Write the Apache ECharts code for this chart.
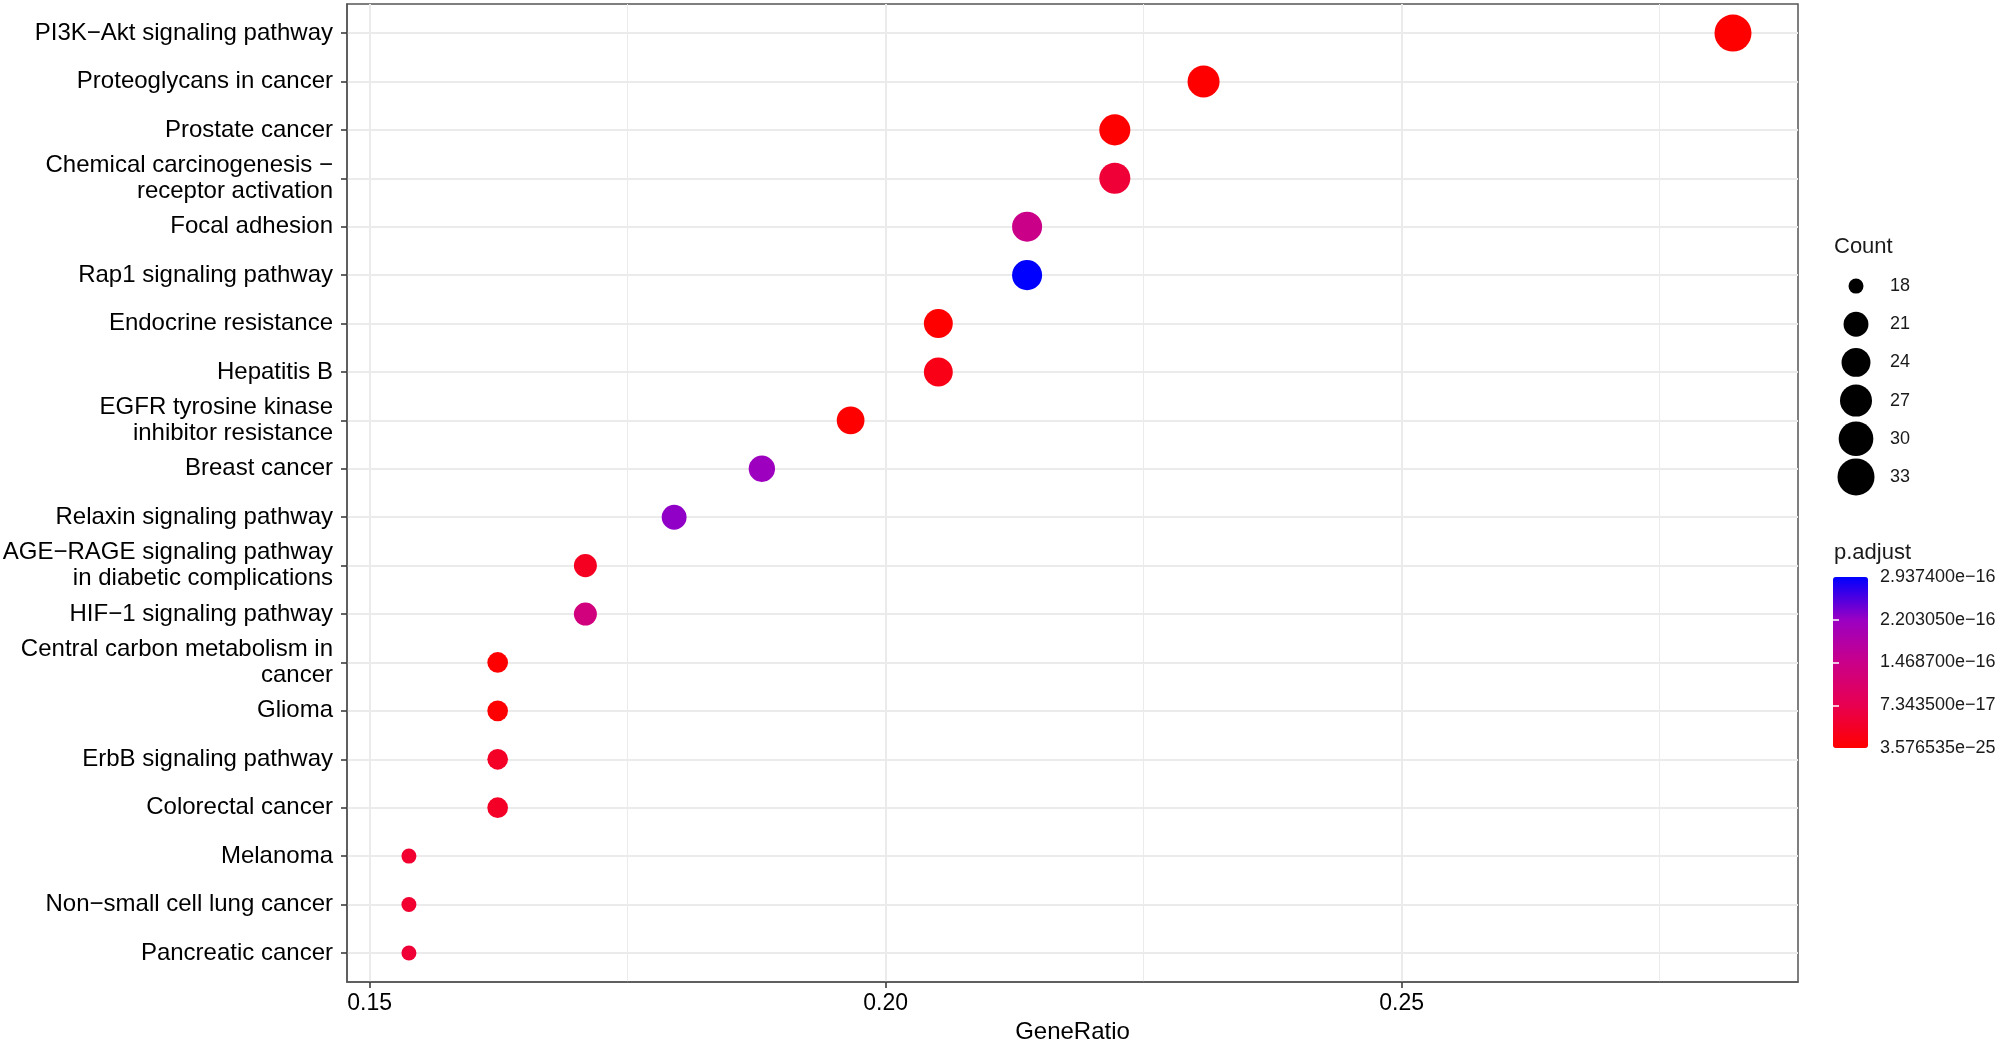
<!DOCTYPE html>
<html>
<head>
<meta charset="utf-8">
<script src="https://cdn.jsdelivr.net/npm/echarts@6/dist/echarts.min.js"></script>
<style>
  html, body { margin: 0; padding: 0; background: #fff; }
  #chart { width: 2000px; height: 1042px; }
</style>
</head>
<body>
<div id="chart"></div>
<script>
// KEGG enrichment dot plot
const terms = [
  'PI3K\u2212Akt signaling pathway',
  'Proteoglycans in cancer',
  'Prostate cancer',
  'Chemical carcinogenesis \u2212\nreceptor activation',
  'Focal adhesion',
  'Rap1 signaling pathway',
  'Endocrine resistance',
  'Hepatitis B',
  'EGFR tyrosine kinase\ninhibitor resistance',
  'Breast cancer',
  'Relaxin signaling pathway',
  'AGE\u2212RAGE signaling pathway\nin diabetic complications',
  'HIF\u22121 signaling pathway',
  'Central carbon metabolism in\ncancer',
  'Glioma',
  'ErbB signaling pathway',
  'Colorectal cancer',
  'Melanoma',
  'Non\u2212small cell lung cancer',
  'Pancreatic cancer'
]
const geneRatio = [0.2821, 0.2308, 0.2222, 0.2222, 0.2137, 0.2137, 0.2051, 0.2051, 0.1966, 0.1880,
  0.1795, 0.1709, 0.1709, 0.1624, 0.1624, 0.1624, 0.1624, 0.1538, 0.1538, 0.1538]
const counts = [33, 27, 26, 26, 25, 25, 24, 24, 23, 22, 21, 20, 20, 19, 19, 19, 19, 18, 18, 18]
const pAdjust = [3.576535e-25, 4.0e-20, 2.0e-19, 5.0e-17, 1.47e-16, 2.9374e-16, 1.0e-19, 2.0e-17, 3.0e-19, 2.15e-16,
  2.25e-16, 3.0e-17, 1.3e-16, 1.0e-18, 2.0e-18, 3.5e-17, 3.5e-17, 4.4e-17, 4.4e-17, 5.0e-17]

const xTicks = [0.15, 0.2, 0.25]
const xMinorTicks = [0.175, 0.225, 0.275]
const countBreaks = [18, 21, 24, 27, 30, 33]
const pBreaks = [3.576535e-25, 7.3435e-17, 1.4687e-16, 2.20305e-16, 2.9374e-16]

const pMin = 3.576535e-25
const pMax = 2.9374e-16
const cMin = 18
const cMax = 33

const FONT = 'Liberation Sans, Arial, sans-serif'

// ggplot area scale: diameter grows with sqrt of rescaled count
function dotSize(c) {
  return 15 + 22 * Math.sqrt((c - cMin) / (cMax - cMin))
}

function fmtP(v) {
  return v.toExponential(6).replace('-', '\u2212')
}

const points = terms.map((t, i) => [geneRatio[i], i, counts[i], pAdjust[i], t])
const rowIdx = terms.map((t, i) => i)

let myChart = echarts.init(document.getElementById('chart'))

let option = {
  backgroundColor: '#fff',
  animation: false,
  textStyle: { fontFamily: FONT },
  title: [
    { text: 'Count', left: 1834, top: 236, padding: 0,
      textStyle: { fontSize: 22, fontWeight: 'normal', color: '#1a1a1a', fontFamily: FONT } },
    { text: 'p.adjust', left: 1834, top: 542, padding: 0,
      textStyle: { fontSize: 22, fontWeight: 'normal', color: '#1a1a1a', fontFamily: FONT } }
  ],
  grid: [
    { left: 347, right: 202, top: 4, bottom: 60, show: true, borderColor: '#555', borderWidth: 1.5,
      outerBoundsMode: 'none', containLabel: false },
    { left: 1836, width: 40, top: 267, height: 229, outerBoundsMode: 'none', containLabel: false },
    { left: 1833, width: 35, top: 577, height: 171, outerBoundsMode: 'none', containLabel: false }
  ],
  xAxis: [
    {
      gridIndex: 0, type: 'value', min: 0.1478, max: 0.2884,
      name: 'GeneRatio', nameLocation: 'middle', nameGap: 34,
      nameTextStyle: { fontSize: 24, color: '#000', fontFamily: FONT },
      axisLine: { show: true, onZero: false, lineStyle: { color: '#555', width: 1.5 } },
      axisTick: { show: true, length: 6, customValues: xTicks, lineStyle: { color: '#333', width: 1.5 } },
      axisLabel: { customValues: xTicks, margin: 10, fontSize: 23, color: '#000',
        formatter: v => v.toFixed(2) },
      splitLine: { show: true, lineStyle: { color: '#ebebeb', width: 2 } }
    },
    {
      gridIndex: 0, type: 'value', min: 0.1478, max: 0.2884, position: 'bottom',
      axisLine: { show: false, onZero: false },
      axisTick: { show: false, customValues: xMinorTicks },
      axisLabel: { show: false, customValues: xMinorTicks },
      splitLine: { show: true, lineStyle: { color: '#ebebeb', width: 1 } }
    },
    { gridIndex: 1, type: 'value', min: 0, max: 1, show: false },
    { gridIndex: 2, type: 'value', min: 0, max: 1, show: false }
  ],
  yAxis: [
    {
      gridIndex: 0, type: 'value', min: -0.6, max: 19.6, inverse: true,
      axisLine: { show: true, onZero: false, lineStyle: { color: '#555', width: 1.5 } },
      axisTick: { show: true, length: 6, customValues: rowIdx, lineStyle: { color: '#333', width: 1.5 } },
      axisLabel: { customValues: rowIdx, margin: 14, fontSize: 24, color: '#000', lineHeight: 26,
        align: 'right', formatter: v => terms[Math.round(v)] },
      splitLine: { show: true, lineStyle: { color: '#ebebeb', width: 2 } }
    },
    {
      gridIndex: 1, type: 'category', data: countBreaks.map(String), inverse: true, position: 'right',
      axisLine: { show: false }, axisTick: { show: false }, splitLine: { show: false },
      axisLabel: { margin: 14, fontSize: 18, color: '#1a1a1a', align: 'left' }
    },
    {
      gridIndex: 2, type: 'value', min: pMin, max: pMax, position: 'right', z: 10,
      axisLine: { show: false },
      axisTick: { show: true, inside: true, length: 6, customValues: pBreaks.slice(1, 4),
        lineStyle: { color: '#fff', width: 1.5 } },
      axisLabel: { customValues: pBreaks, margin: 12, fontSize: 18, color: '#1a1a1a', formatter: fmtP },
      splitLine: { show: false }
    },
    {
      gridIndex: 2, type: 'value', min: pMin, max: pMax, position: 'left', z: 10,
      axisLine: { show: false },
      axisTick: { show: true, inside: true, length: 6, customValues: pBreaks.slice(1, 4),
        lineStyle: { color: '#fff', width: 1.5 } },
      axisLabel: { show: false, customValues: pBreaks.slice(1, 4) },
      splitLine: { show: false }
    }
  ],
  visualMap: {
    type: 'continuous',
    min: pMin,
    max: pMax,
    dimension: 3,
    seriesIndex: 0,
    left: 1833,
    top: 577,
    itemWidth: 35,
    itemHeight: 171,
    padding: 0,
    calculable: false,
    showLabel: false,
    text: null,
    inRange: { color: ['#ff0000', '#e80050', '#ca0089', '#9a00c3', '#0000ff'] }
  },
  series: [
    {
      type: 'scatter',
      xAxisIndex: 0,
      yAxisIndex: 0,
      data: points,
      symbolSize: d => dotSize(d[2]),
      itemStyle: { opacity: 1 },
      z: 5
    },
    {
      type: 'scatter',
      xAxisIndex: 2,
      yAxisIndex: 1,
      data: countBreaks.map((c, i) => [0.5, i, c]),
      symbolSize: d => dotSize(d[2]),
      itemStyle: { color: '#000', opacity: 1 }
    }
  ]
}

myChart.setOption(option)
</script>
</body>
</html>
